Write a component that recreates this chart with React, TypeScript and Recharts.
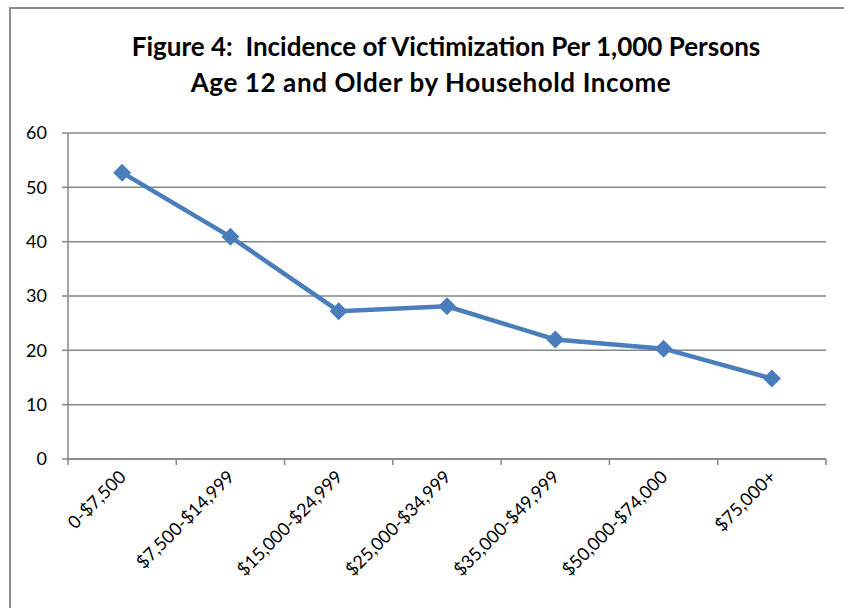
import React from "react";
import {
  LineChart,
  Line,
  XAxis,
  YAxis,
  CartesianGrid,
} from "recharts";

const categories = [
  "0-$7,500",
  "$7,500-$14,999",
  "$15,000-$24,999",
  "$25,000-$34,999",
  "$35,000-$49,999",
  "$50,000-$74,000",
  "$75,000+",
];
const incidence = [52.7, 40.9, 27.2, 28.1, 22.0, 20.3, 14.8];
const yTicks = [0, 10, 20, 30, 40, 50, 60];

// category slots on a numeric axis: marks at the edges, labels in the middle
const xTicks: number[] = [];
for (let i = 0; i <= categories.length * 2; i++) xTicks.push(i / 2);

const chartData = categories.map((name, i) => ({
  x: i + 0.5,
  name,
  value: incidence[i],
}));

const AXIS = "#868686";
const BLUE = "#4a7ebb";
const FONT = "Lato, 'Liberation Sans', sans-serif";

const CategoryTick = (props: any) => {
  const { x, y, payload } = props;
  const v = payload.value;
  if (Number.isInteger(v)) {
    return <line x1={x} y1={y} x2={x} y2={y + 6} stroke={AXIS} strokeWidth={1.5} />;
  }
  const label = categories[Math.floor(v)];
  const tx = x + 5;
  const ty = y + 19;
  return (
    <text
      x={tx}
      y={ty}
      textAnchor="end"
      fontSize={18}
      fontFamily={FONT}
      fill="#000"
      transform={`rotate(-45, ${tx}, ${ty})`}
    >
      {label}
    </text>
  );
};

const Diamond = (props: any) => {
  const { cx, cy, index } = props;
  const r = 9;
  return (
    <polygon
      key={`d-${index}`}
      points={`${cx},${cy - r} ${cx + r},${cy} ${cx},${cy + r} ${cx - r},${cy}`}
      fill={BLUE}
    />
  );
};

const titleStyle: React.CSSProperties = {
  position: "absolute",
  transform: "translateX(-50%)",
  whiteSpace: "pre",
  fontWeight: 700,
  fontSize: 26,
  lineHeight: "30px",
  color: "#000",
};

export default function App() {
  return (
    <div
      style={{
        position: "absolute",
        left: 0,
        top: 0,
        width: 844,
        height: 608,
        overflow: "hidden",
        background: "#fff",
        fontFamily: FONT,
      }}
    >
      <div
        style={{
          position: "absolute",
          left: 9,
          top: 7,
          width: 900,
          height: 700,
          borderLeft: "2px solid #8c8c8c",
          borderTop: "2px solid #8c8c8c",
        }}
      />
      <div style={{ ...titleStyle, left: 446, top: 31 }}>
        {"Figure 4:  Incidence of Victimization Per 1,000 Persons"}
      </div>
      <div style={{ ...titleStyle, left: 431, top: 67, letterSpacing: "0.6px" }}>
        {"Age 12 and Older by Household Income"}
      </div>
      <div style={{ position: "absolute", left: 0, top: 0 }}>
        <LineChart
          width={844}
          height={608}
          data={chartData}
          margin={{ top: 133, right: 18, left: 0, bottom: 0 }}
        >
          <CartesianGrid vertical={false} stroke={AXIS} strokeWidth={1.5} />
          <XAxis
            dataKey="x"
            type="number"
            domain={[0, 7]}
            ticks={xTicks}
            interval={0}
            height={149}
            tickSize={0}
            tickMargin={0}
            tickLine={false}
            axisLine={{ stroke: AXIS, strokeWidth: 1.5 }}
            tick={<CategoryTick />}
          />
          <YAxis
            type="number"
            domain={[0, 60]}
            ticks={yTicks}
            interval={0}
            width={68}
            tickSize={6}
            tickMargin={15}
            tickLine={{ stroke: AXIS, strokeWidth: 1.5 }}
            axisLine={{ stroke: AXIS, strokeWidth: 1.5 }}
            tick={{ fill: "#000", fontSize: 18, fontFamily: FONT }}
          />
          <Line
            type="linear"
            dataKey="value"
            stroke={BLUE}
            strokeWidth={4.5}
            dot={<Diamond />}
            activeDot={false}
            isAnimationActive={false}
          />
        </LineChart>
      </div>
    </div>
  );
}
